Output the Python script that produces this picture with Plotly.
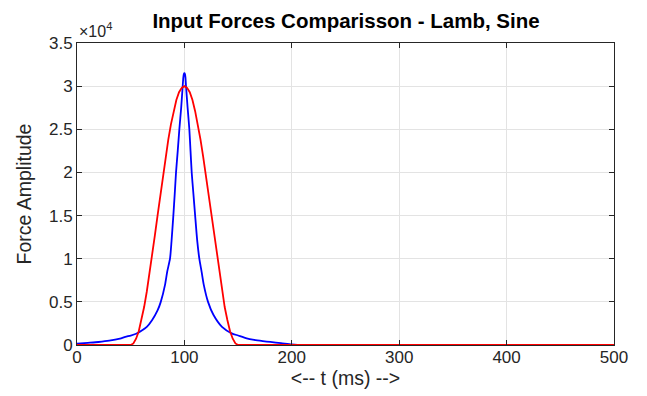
import plotly.graph_objects as go

# Lamb pulse (blue) - time (ms) and force amplitude
t_lamb = [0, 10, 20, 30, 40, 45, 50, 55, 60, 65, 70, 75, 78, 82, 84, 86.6, 88, 89.7, 91, 92.2, 93.8, 95.3,
          97, 98.4, 99, 99.5, 100, 100.5, 101, 101.5, 103, 104.6, 105.7, 106.8, 108.4, 110, 112, 113.9,
          116, 118, 122, 127, 135, 144, 150, 158, 165, 173, 180, 190, 200, 210, 500]
f_lamb = [150, 250, 350, 500, 750, 950, 1100, 1300, 1650, 2100, 2900, 4000, 5000, 7000, 8500, 10000, 12000,
          15000, 17500, 20000, 22500, 25000, 27500, 30000, 31000, 31400, 31500, 31400, 31000, 30000, 27500,
          25000, 22500, 20000, 17500, 15000, 12000, 10000, 8500, 7000, 5000, 3500, 2100, 1350, 1100, 770,
          600, 460, 350, 220, 80, 0, 0]

# Sine pulse (red)
t_sine = [0, 50, 52.5, 55, 57.5, 60, 62.5, 65, 67.5, 70, 72.5, 75, 77.5, 80, 82.5, 85, 87.5, 90, 92.5, 95,
          97.5, 100, 102.5, 105, 107.5, 110, 112.5, 115, 117.5, 120, 122.5, 125, 127.5, 130, 132.5, 135,
          137.5, 140, 142.5, 145, 147.5, 150, 500]
f_sine = [0, 0, 180, 730, 1600, 2900, 4400, 6200, 8200, 10400, 12700, 15000, 17300, 19600, 21800, 23800,
          25600, 27100, 28400, 29300, 29800, 30000, 29800, 29300, 28400, 27100, 25600, 23800, 21800, 19600,
          17300, 15000, 12700, 10400, 8200, 6200, 4400, 2900, 1600, 730, 180, 0, 0]

y_ticks = [0, 5000, 10000, 15000, 20000, 25000, 30000, 35000]
y_tick_labels = ["0", "0.5", "1", "1.5", "2", "2.5", "3", "3.5"]
x_ticks = [0, 100, 200, 300, 400, 500]

font = "Liberation Sans, Arial, Helvetica, sans-serif"
axcol = "#262626"

fig = go.Figure()
fig.add_trace(go.Scatter(x=t_lamb, y=f_lamb, mode="lines",
                         line=dict(color="#0000ff", width=1.8, shape="spline", smoothing=0.6),
                         showlegend=False))
fig.add_trace(go.Scatter(x=t_sine, y=f_sine, mode="lines", line=dict(color="#ff0000", width=1.8),
                         showlegend=False))

fig.update_layout(
    width=639, height=388,
    margin=dict(l=69, r=33, t=35, b=51),
    paper_bgcolor="white", plot_bgcolor="white",
    font=dict(family=font, size=17, color=axcol),
    title=dict(text="<b>Input Forces Comparisson - Lamb, Sine</b>", x=0.529, xanchor="center",
               y=0.967, yanchor="middle", font=dict(size=20.5, color="black")),
    xaxis=dict(range=[0, 500], tickvals=x_ticks, ticks="inside", ticklen=5, tickcolor=axcol,
               showline=True, linecolor=axcol, linewidth=1, mirror="ticks", automargin=False,
               showgrid=True, gridcolor="#e3e3e3", gridwidth=1, zeroline=False,
               ticklabelstandoff=-3,
               tickfont=dict(size=17), title=dict(text="<-- t (ms) -->", font=dict(size=19.5), standoff=2)),
    yaxis=dict(range=[0, 35000], tickvals=y_ticks, ticktext=y_tick_labels, ticks="inside", ticklen=5,
               tickcolor=axcol, showline=True, linecolor=axcol, linewidth=1, mirror="ticks", automargin=False,
               showgrid=True, gridcolor="#e3e3e3", gridwidth=1, zeroline=False,
               tickfont=dict(size=17), title=dict(text="Force Amplitude", font=dict(size=19.5), standoff=12)),
)
fig.add_annotation(text="\u00d710<sup>4</sup>", xref="paper", yref="paper", x=0.0, y=1.0,
                   xanchor="left", yanchor="bottom", showarrow=False, font=dict(size=16, color=axcol),
                   yshift=1)

fig.write_html("out.html")
